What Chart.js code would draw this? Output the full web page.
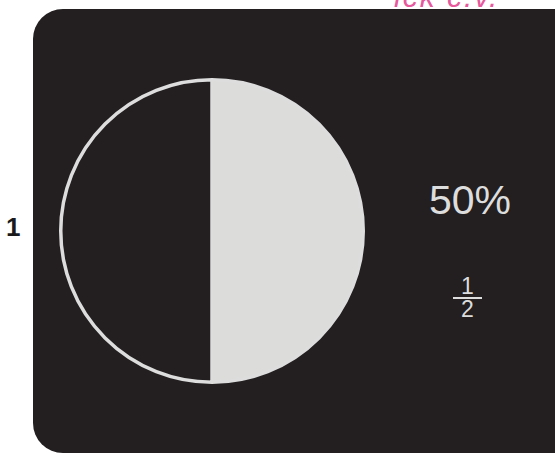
<!DOCTYPE html>
<html>
<head>
<meta charset="utf-8">
<script src="https://cdn.jsdelivr.net/npm/chart.js@4"></script>
<style>
  body { margin: 0; background: #fff; width: 555px; height: 453px; overflow: hidden; position: relative; font-family: "Liberation Sans", Arial, sans-serif; }
  #panel { position: absolute; left: 33px; top: 9px; width: 560px; height: 444px; background: #231f20; border-radius: 30px; }
  #pieWrap { position: absolute; left: 59px; top: 78px; width: 306px; height: 306px; }
  #num { position: absolute; left: 6px; top: 212px; font-size: 26px; font-weight: bold; color: #1a1a1a; }
  #pct { position: absolute; left: 429px; top: 177px; font-size: 41px; color: #dcdddc; }
  #frac { position: absolute; left: 452px; top: 276px; width: 31px; text-align: center; color: #dcdddc; font-size: 23px; line-height: 20px; }
  #frac .bar { height: 2px; background: #dcdddc; margin: 1px 1px 0 1px; }
  #note { position: absolute; left: 394px; top: -20px; font-size: 30px; font-style: italic; color: #e8589c; letter-spacing: 2px; z-index: 2; }
</style>
</head>
<body>
<div id="panel"></div>
<div id="note">ick c.v.</div>
<div id="num">1</div>
<div id="pieWrap"><canvas id="pieCanvas" width="306" height="306"></canvas></div>
<div id="pct">50%</div>
<div id="frac"><div>1</div><div class="bar"></div><div>2</div></div>
<script>
// parts of the whole
const parts = ["filled", "empty"];
const shares = [50, 50];

const pieCanvas = document.getElementById("pieCanvas");

const pieChart = new Chart(pieCanvas, {
    type: "pie",
    data: {
        labels: parts,
        datasets: [
            {
                data: shares,
                backgroundColor: ['#dcdddb', '#231f20'],
                borderColor: '#dcdddc',
                borderWidth: 3.5
            },
        ],
    },
    options: {
        responsive: false,
        animation: false,
        layout: { padding: 0 },
        plugins: {
            legend: { display: false },
            tooltip: { enabled: false }
        }
    }
})
</script>
</body>
</html>
